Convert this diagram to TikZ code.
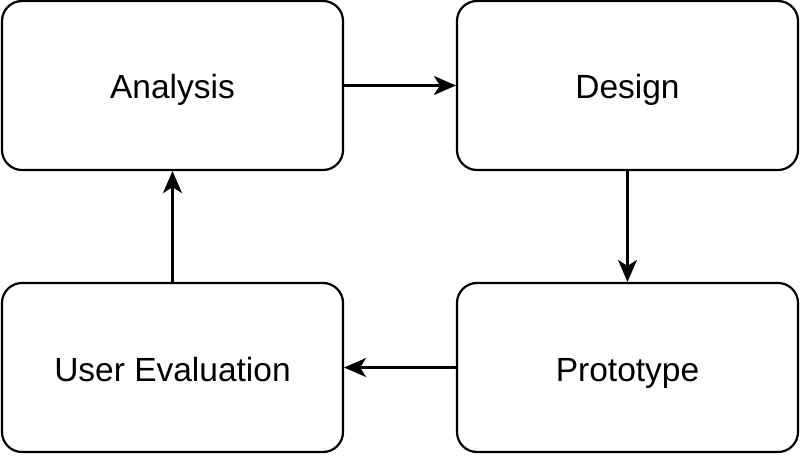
\documentclass[tikz,border=0pt]{standalone}
\usepackage{fontspec}
\setmainfont{Liberation Sans}
\usetikzlibrary{arrows.meta}
\begin{document}
\begin{tikzpicture}[x=1pt,y=1pt,
  box/.style={draw=black,line width=2.2pt,rounded corners=20pt,minimum width=341pt,minimum height=169pt,fill=white,inner sep=0pt,text height=27pt,text depth=0pt,font=\fontsize{33.5}{40}\selectfont},
  conn/.style={draw=black,line width=2.2pt,-{Stealth[length=22pt,width=19pt,inset=6pt]}}]
\useasboundingbox (0,0) rectangle (800,456);
\node[box] (an) at (172.5,370.5) {Analysis};
\node[box] (de) at (627.5,370.5) {Design};
\node[box] (ue) at (172.5,88.5) {User Evaluation};
\node[box] (pr) at (627.5,88.5) {Prototype};
\draw[conn,line width=2.2pt] (an.east) -- (de.west);
\draw[conn,line width=2.2pt] (de.south) -- (pr.north);
\draw[conn,line width=2.2pt] (pr.west) -- (ue.east);
\draw[conn,line width=2.2pt] (ue.north) -- (an.south);
\end{tikzpicture}
\end{document}
